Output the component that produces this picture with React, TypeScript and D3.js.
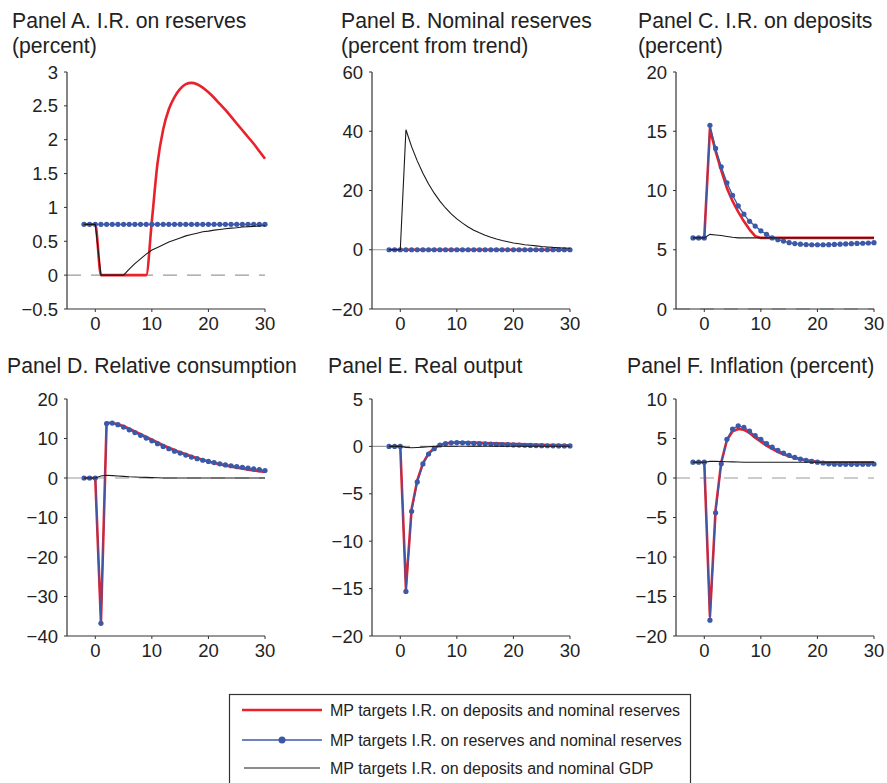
import React from "react";
import * as d3 from "d3";

const periods = [-2, -1, 0, 1, 2, 3, 4, 5, 6, 7, 8, 9, 10, 11, 12, 13, 14, 15, 16, 17, 18, 19, 20, 21, 22, 23, 24, 25, 26, 27, 28, 29, 30];

// Panel A: I.R. on reserves
const aRed = [0.75, 0.75, 0.75, 0, 0, 0, 0, 0, 0, 0, 0, 0, 0.8, 1.65, 2.15, 2.45, 2.63, 2.75, 2.82, 2.84, 2.82, 2.77, 2.7, 2.62, 2.53, 2.44, 2.34, 2.24, 2.14, 2.04, 1.94, 1.83, 1.72];
const aBlue = [0.75, 0.75, 0.75, 0.75, 0.75, 0.75, 0.75, 0.75, 0.75, 0.75, 0.75, 0.75, 0.75, 0.75, 0.75, 0.75, 0.75, 0.75, 0.75, 0.75, 0.75, 0.75, 0.75, 0.75, 0.75, 0.75, 0.75, 0.75, 0.75, 0.75, 0.75, 0.75, 0.75];
const aBlack = [0.75, 0.75, 0.75, 0, 0, 0, 0, 0, 0.09, 0.17, 0.24, 0.31, 0.37, 0.41, 0.45, 0.49, 0.52, 0.55, 0.58, 0.6, 0.62, 0.64, 0.65, 0.665, 0.675, 0.685, 0.695, 0.7, 0.71, 0.715, 0.72, 0.725, 0.73];

// Panel B: Nominal reserves
const bRed = [0, 0, 0, 0, 0, 0, 0, 0, 0, 0, 0, 0, 0, 0, 0, 0, 0, 0, 0, 0, 0, 0, 0, 0, 0, 0, 0, 0, 0, 0, 0, 0, 0];
const bBlue = [0, 0, 0, 0, 0, 0, 0, 0, 0, 0, 0, 0, 0, 0, 0, 0, 0, 0, 0, 0, 0, 0, 0, 0, 0, 0, 0, 0, 0, 0, 0, 0, 0];
const bBlack = [0, 0, 0, 40.5, 34.8, 30.0, 25.8, 22.2, 19.1, 16.4, 14.1, 12.1, 10.4, 9.0, 7.7, 6.6, 5.7, 4.9, 4.2, 3.6, 3.1, 2.7, 2.3, 2.0, 1.7, 1.5, 1.3, 1.1, 0.95, 0.8, 0.7, 0.6, 0.5];

// Panel C: I.R. on deposits
const cRed = [6, 6, 6, 15.2, 13.3, 11.7, 10.2, 9.1, 8.2, 7.4, 6.7, 6.15, 6.0, 6, 6, 6, 6, 6, 6, 6, 6, 6, 6, 6, 6, 6, 6, 6, 6, 6, 6, 6, 6];
const cBlue = [6, 6, 6, 15.5, 13.55, 12.0, 10.65, 9.6, 8.7, 8.0, 7.4, 7.0, 6.6, 6.3, 6.0, 5.85, 5.73, 5.6, 5.52, 5.47, 5.44, 5.42, 5.42, 5.42, 5.43, 5.45, 5.47, 5.49, 5.51, 5.53, 5.55, 5.57, 5.6];
const cBlack = [6, 6, 6, 6.3, 6.25, 6.2, 6.12, 6.05, 6.0, 6, 6, 6, 6, 6, 6, 6, 6, 6, 6, 6, 6, 6, 6, 6, 6, 6, 6, 6, 6, 6, 6, 6, 6];

// Panel D: Relative consumption
const dRed = [0, 0, 0, -36.5, 14.0, 13.9, 13.6, 13.1, 12.5, 11.8, 11.1, 10.4, 9.7, 9.0, 8.3, 7.7, 7.1, 6.5, 6.0, 5.5, 5.0, 4.6, 4.2, 3.8, 3.5, 3.2, 2.9, 2.6, 2.4, 2.1, 1.9, 1.7, 1.5];
const dBlue = [0, 0, 0, -36.8, 13.8, 13.9, 13.5, 12.9, 12.2, 11.5, 10.8, 10.1, 9.4, 8.7, 8.0, 7.4, 6.8, 6.3, 5.8, 5.3, 4.9, 4.5, 4.2, 3.9, 3.6, 3.3, 3.1, 2.9, 2.7, 2.5, 2.3, 2.1, 1.9];
const dBlack = [0, 0, 0, 0.5, 0.7, 0.6, 0.5, 0.4, 0.3, 0.25, 0.2, 0.15, 0.1, 0.05, 0, 0, 0, 0, 0, 0, 0, 0, 0, 0, 0, 0, 0, 0, 0, 0, 0, 0, 0];

// Panel E: Real output
const eRed = [0, 0, 0, -15.0, -6.6, -3.6, -1.8, -0.75, -0.2, 0.15, 0.3, 0.38, 0.42, 0.42, 0.41, 0.4, 0.38, 0.36, 0.34, 0.32, 0.3, 0.28, 0.26, 0.24, 0.22, 0.2, 0.18, 0.16, 0.15, 0.14, 0.13, 0.12, 0.11];
const eBlue = [0, 0, 0, -15.3, -6.85, -3.75, -1.85, -0.8, -0.25, 0.15, 0.3, 0.38, 0.4, 0.38, 0.35, 0.32, 0.3, 0.27, 0.24, 0.22, 0.2, 0.18, 0.16, 0.14, 0.12, 0.1, 0.09, 0.08, 0.07, 0.06, 0.05, 0.05, 0.05];
const eBlack = [0, 0, 0, -0.1, -0.15, -0.12, -0.08, -0.04, 0, 0.02, 0.02, 0.02, 0.02, 0.02, 0.02, 0.02, 0.02, 0.02, 0.02, 0.02, 0.02, 0.02, 0.02, 0.02, 0.02, 0.02, 0.02, 0.02, 0.02, 0.02, 0.02, 0.02, 0.02];

// Panel F: Inflation
const fRed = [2, 2, 2, -17.5, -4.0, 2.0, 4.8, 5.9, 6.2, 6.1, 5.7, 5.1, 4.6, 4.1, 3.7, 3.3, 3.0, 2.75, 2.55, 2.4, 2.25, 2.15, 2.05, 2.0, 2.0, 2.0, 2.0, 2.0, 2.0, 2.0, 2.0, 2.0, 2.0];
const fBlue = [2, 2, 2, -18.0, -4.4, 1.8, 4.9, 6.2, 6.6, 6.4, 5.95, 5.36, 4.9, 4.35, 3.9, 3.5, 3.16, 2.87, 2.6, 2.4, 2.24, 2.1, 2.0, 1.9, 1.8, 1.75, 1.73, 1.73, 1.73, 1.73, 1.74, 1.75, 1.77];
const fBlack = [2, 2, 2, 2.1, 2.1, 2.08, 2.06, 2.04, 2.02, 2, 2, 2, 2, 2, 2, 2, 2, 2, 2, 2, 2, 2, 2, 2, 2, 2, 2, 2, 2, 2, 2, 2, 2];

const xTicks = [0, 10, 20, 30];
const aTicks = [-0.5, 0, 0.5, 1, 1.5, 2, 2.5, 3];
const bTicks = [-20, 0, 20, 40, 60];
const cTicks = [0, 5, 10, 15, 20];
const dTicks = [-40, -30, -20, -10, 0, 10, 20];
const eTicks = [-20, -15, -10, -5, 0, 5];
const fTicks = [-20, -15, -10, -5, 0, 5, 10];

const legendLabels = [
  "MP targets I.R. on deposits and nominal reserves",
  "MP targets I.R. on reserves and nominal reserves",
  "MP targets I.R. on deposits and nominal GDP",
];

const RED = "#e8212b";
const BLUE = "#3c59a8";
const BLACK = "#1a1a1a";
const FONT = "'Liberation Sans', Arial, Helvetica, sans-serif";

type PanelSpec = {
  title: string[];
  titleX: number;
  titleY: number;
  left: number;
  top: number;
  bottom: number;
  ticks: number[];
  red: number[];
  blue: number[];
  black: number[];
  smoothRed?: boolean;
};

const panels: PanelSpec[] = [
  { title: ["Panel A. I.R. on reserves", "(percent)"], titleX: 12, titleY: 28, left: 67, top: 72, bottom: 309, ticks: aTicks, red: aRed, blue: aBlue, black: aBlack, smoothRed: true },
  { title: ["Panel B. Nominal reserves", "(percent from trend)"], titleX: 341, titleY: 28, left: 372, top: 72, bottom: 309, ticks: bTicks, red: bRed, blue: bBlue, black: bBlack },
  { title: ["Panel C. I.R. on deposits", "(percent)"], titleX: 638, titleY: 28, left: 676, top: 72, bottom: 309, ticks: cTicks, red: cRed, blue: cBlue, black: cBlack },
  { title: ["Panel D. Relative consumption"], titleX: 7, titleY: 373, left: 67, top: 399, bottom: 636, ticks: dTicks, red: dRed, blue: dBlue, black: dBlack },
  { title: ["Panel E. Real output"], titleX: 328, titleY: 373, left: 372, top: 399, bottom: 636, ticks: eTicks, red: eRed, blue: eBlue, black: eBlack },
  { title: ["Panel F. Inflation (percent)"], titleX: 627, titleY: 373, left: 676, top: 399, bottom: 636, ticks: fTicks, red: fRed, blue: fBlue, black: fBlack },
];

const fmt = (v: number) => (v < 0 ? "\u2212" + String(Math.abs(v)) : String(v));

function Panel({ p }: { p: PanelSpec }) {
  const x = d3.scaleLinear().domain([-5, 30]).range([p.left, p.left + 198]);
  const y = d3
    .scaleLinear()
    .domain([p.ticks[0], p.ticks[p.ticks.length - 1]])
    .range([p.bottom, p.top]);
  const line = d3
    .line<number>()
    .x((_, i) => x(periods[i]))
    .y((d) => y(d));
  const smooth = d3
    .line<number>()
    .x((_, i) => x(periods[i]))
    .y((d) => y(d))
    .curve(d3.curveMonotoneX);
  const x0 = x(-5);
  const x1 = x(30);
  return (
    <g>
      {p.title.map((t, i) => (
        <text key={i} x={p.titleX} y={p.titleY + i * 25} fontSize={21.2} fill="#222" fontFamily={FONT}>
          {t}
        </text>
      ))}
      {/* zero line */}
      <line x1={x0} x2={x1} y1={y(0)} y2={y(0)} stroke="#9a9a9a" strokeWidth={1.2} strokeDasharray="14 10" />
      {/* axes */}
      <line x1={x0} x2={x0} y1={p.top} y2={p.bottom} stroke="#333" strokeWidth={1.2} />
      <line x1={x0} x2={x1} y1={p.bottom} y2={p.bottom} stroke="#333" strokeWidth={1.2} />
      {p.ticks.map((t) => (
        <g key={"y" + t}>
          <line x1={x0 - 3} x2={x0} y1={y(t)} y2={y(t)} stroke="#333" strokeWidth={1} />
          <text x={x0 - 9} y={y(t) + 6.5} fontSize={18.5} textAnchor="end" fill="#222" fontFamily={FONT}>
            {fmt(t)}
          </text>
        </g>
      ))}
      {xTicks.map((t) => (
        <g key={"x" + t}>
          <line x1={x(t)} x2={x(t)} y1={p.bottom} y2={p.bottom + 3} stroke="#333" strokeWidth={1} />
          <text x={x(t)} y={p.bottom + 21} fontSize={18.5} textAnchor="middle" fill="#222" fontFamily={FONT}>
            {fmt(t)}
          </text>
        </g>
      ))}
      {/* series */}
      <path d={(p.smoothRed ? smooth(p.red) : line(p.red)) || ""} fill="none" stroke={RED} strokeWidth={2.6} strokeLinejoin="round" />
      <path d={line(p.blue) || ""} fill="none" stroke={BLUE} strokeWidth={1.3} />
      {p.blue.map((v, i) => (
        <circle key={i} cx={x(periods[i])} cy={y(v)} r={2.6} fill={BLUE} />
      ))}
      <path d={line(p.black) || ""} fill="none" stroke={BLACK} strokeWidth={1.1} />
    </g>
  );
}

export default function App() {
  const lx0 = 242;
  const lx1 = 322;
  const rows = [710, 740, 768];
  return (
    <svg
      width={887}
      height={783}
      style={{ position: "absolute", left: 0, top: 0, background: "#fff" }}
      fontFamily={FONT}
    >
      <rect x={0} y={0} width={887} height={783} fill="#fff" />
      {panels.map((p, i) => (
        <Panel key={i} p={p} />
      ))}
      <rect x={229.5} y={694.5} width={461} height={120} fill="none" stroke="#333" strokeWidth={1.2} />
      <line x1={lx0} x2={lx1} y1={rows[0]} y2={rows[0]} stroke={RED} strokeWidth={2.6} />
      <line x1={lx0} x2={lx1} y1={rows[1]} y2={rows[1]} stroke={BLUE} strokeWidth={1.3} />
      <circle cx={(lx0 + lx1) / 2} cy={rows[1]} r={3.5} fill={BLUE} />
      <line x1={lx0 + 2} x2={lx1 - 2} y1={rows[2]} y2={rows[2]} stroke={BLACK} strokeWidth={1.1} />
      {legendLabels.map((l, i) => (
        <text key={i} x={330} y={rows[i] + 5.5} fontSize={16} fill="#222" fontFamily={FONT}>
          {l}
        </text>
      ))}
    </svg>
  );
}
